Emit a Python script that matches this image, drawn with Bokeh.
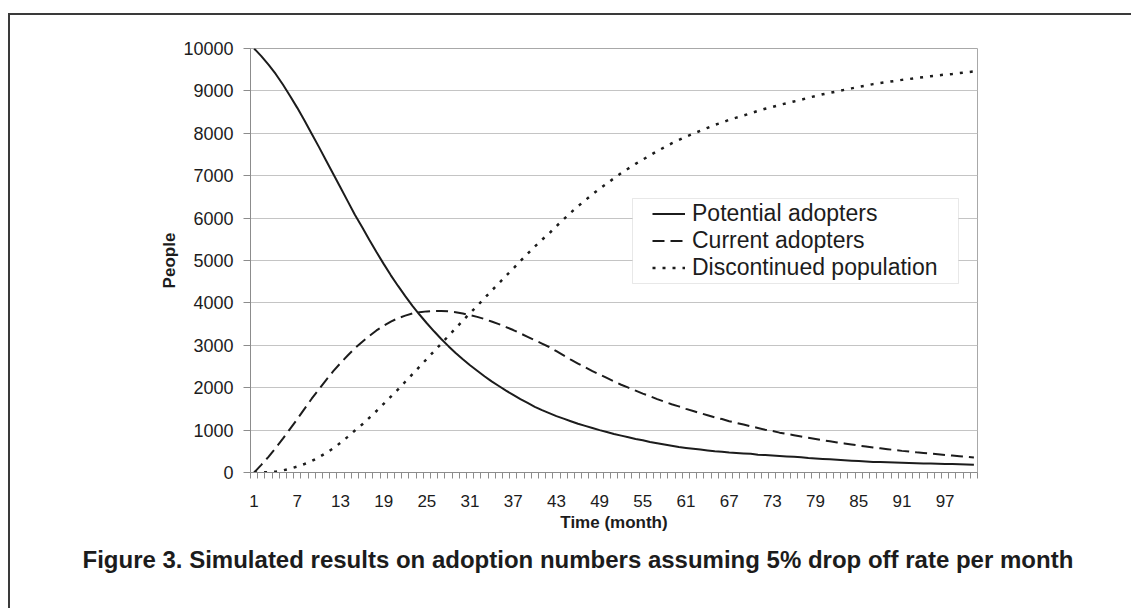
from bokeh.plotting import figure
from bokeh.models import Range1d, FixedTicker, Legend, LegendItem, BoxAnnotation, Title
from bokeh.embed import file_html
from bokeh.resources import INLINE

months = list(range(1, 102))
x_tick_months = [1, 7, 13, 19, 25, 31, 37, 43, 49, 55, 61, 67, 73, 79, 85, 91, 97]
y_ticks = [0, 1000, 2000, 3000, 4000, 5000, 6000, 7000, 8000, 9000, 10000]

potential = [10000, 9820, 9620, 9400, 9150, 8880, 8600, 8300, 7990, 7680,
             7360, 7040, 6720, 6400, 6080, 5790, 5490, 5200, 4920, 4650,
             4400, 4160, 3930, 3720, 3520, 3330, 3150, 2980, 2820, 2670,
             2530, 2400, 2270, 2150, 2040, 1930, 1830, 1730, 1640, 1550,
             1470, 1400, 1330, 1270, 1210, 1150, 1100, 1050, 1000, 955,
             910, 870, 830, 790, 760, 720, 690, 660, 630, 600,
             580, 560, 540, 520, 500, 490, 470, 460, 450, 440,
             420, 410, 400, 390, 380, 370, 360, 340, 330, 320,
             310, 300, 290, 280, 270, 260, 250, 245, 240, 235,
             230, 225, 220, 215, 210, 205, 200, 200, 195, 190,
             185]

current = [0, 180, 370, 580, 800, 1030, 1260, 1500, 1740, 1960,
           2180, 2390, 2580, 2760, 2930, 3080, 3220, 3350, 3460, 3560,
           3640, 3700, 3750, 3780, 3800, 3810, 3810, 3800, 3780, 3750,
           3710, 3670, 3620, 3560, 3500, 3430, 3360, 3280, 3200, 3120,
           3040, 2960, 2860, 2760, 2660, 2570, 2480, 2390, 2310, 2230,
           2150, 2070, 2000, 1930, 1860, 1800, 1730, 1670, 1610, 1560,
           1500, 1450, 1400, 1350, 1300, 1260, 1210, 1170, 1130, 1090,
           1050, 1010, 980, 940, 910, 880, 850, 820, 790, 760,
           735, 710, 685, 660, 635, 615, 590, 570, 550, 530,
           510, 495, 475, 460, 445, 430, 415, 400, 385, 370,
           355]

discontinued = [0, 0, 10, 20, 50, 90, 140, 200, 270, 360,
                460, 570, 700, 840, 990, 1130, 1290, 1450, 1620, 1790,
                1960, 2140, 2320, 2500, 2680, 2860, 3040, 3220, 3400, 3580,
                3760, 3930, 4110, 4290, 4460, 4640, 4810, 4990, 5160, 5330,
                5490, 5640, 5810, 5970, 6130, 6280, 6420, 6560, 6690, 6815,
                6940, 7060, 7170, 7280, 7380, 7480, 7580, 7670, 7760, 7840,
                7920, 7990, 8060, 8130, 8200, 8250, 8320, 8370, 8420, 8470,
                8530, 8580, 8620, 8670, 8710, 8750, 8790, 8840, 8880, 8920,
                8955, 8990, 9025, 9060, 9095, 9125, 9160, 9185, 9210, 9235,
                9260, 9280, 9305, 9325, 9345, 9365, 9385, 9400, 9420, 9440,
                9460]

series_names = ["Potential adopters", "Current adopters", "Discontinued population"]
caption = "Figure 3. Simulated results on adoption numbers assuming 5% drop off rate per month"

FONT = "Liberation Sans"
INK = "#1c1c1c"
EDGE = "#3a3a3a"

p = figure(width=1131, height=608, output_backend="svg", toolbar_location=None,
           x_range=Range1d(0.5, 101.5), y_range=Range1d(0, 10000),
           min_border_left=250, min_border_right=154, min_border_top=48,
           min_border_bottom=136, background_fill_color="white",
           border_fill_color=None)
# page frame lines (left and top edges of the figure box), drawn behind the canvas
p.styles = {
    "background": ("linear-gradient(%s, %s) 8px 13px / 2px 700px no-repeat, "
                   "linear-gradient(%s, %s) 8px 13px / 1300px 2px no-repeat, #ffffff")
                  % (EDGE, EDGE, EDGE, EDGE)
}
p.outline_line_color = "#a8a8a8"
p.outline_line_width = 1

# axes
boundaries = [m - 0.5 for m in months] + [months[-1] + 0.5]
p.xaxis.ticker = FixedTicker(ticks=x_tick_months, minor_ticks=boundaries)
p.xaxis.major_tick_out = 0
p.xaxis.major_tick_in = 0
p.xaxis.minor_tick_out = 6
p.xaxis.minor_tick_in = 0
p.xaxis.minor_tick_line_color = "#8c8c8c"
p.xaxis.axis_line_color = "#8c8c8c"
p.xaxis.major_label_text_font = FONT
p.xaxis.major_label_text_font_size = "17px"
p.xaxis.major_label_text_color = INK
p.xaxis.major_label_standoff = 16
p.xaxis.axis_label = "Time (month)"
p.xaxis.axis_label_text_font = FONT
p.xaxis.axis_label_text_font_style = "bold"
p.xaxis.axis_label_text_font_size = "17px"
p.xaxis.axis_label_text_color = INK
p.xaxis.axis_label_standoff = 3

p.yaxis.ticker = FixedTicker(ticks=y_ticks)
p.yaxis.major_tick_out = 7
p.yaxis.major_tick_in = 0
p.yaxis.minor_tick_out = 0
p.yaxis.minor_tick_in = 0
p.yaxis.major_tick_line_color = "#8c8c8c"
p.yaxis.axis_line_color = "#8c8c8c"
p.yaxis.major_label_text_font = FONT
p.yaxis.major_label_text_font_size = "18px"
p.yaxis.major_label_text_color = INK
p.yaxis.major_label_standoff = 10
p.yaxis.axis_label = "People"
p.yaxis.axis_label_text_font = FONT
p.yaxis.axis_label_text_font_style = "bold"
p.yaxis.axis_label_text_font_size = "17px"
p.yaxis.axis_label_text_color = INK
p.yaxis.axis_label_standoff = 1

p.xgrid.visible = False
p.ygrid.ticker = FixedTicker(ticks=y_ticks)
p.ygrid.grid_line_color = "#c4c4c4"
p.ygrid.grid_line_width = 1

# series
r1 = p.line(months, potential, line_color=INK, line_width=2)
r2 = p.line(months, current, line_color=INK, line_width=2, line_dash="12 6")
r3 = p.line(months, discontinued, line_color=INK, line_width=2.5, line_dash="3 7")

# legend frame
legend_box = BoxAnnotation(left=382, right=708, bottom=189, top=274,
                           left_units="screen", right_units="screen",
                           top_units="screen", bottom_units="screen",
                           fill_color="white", fill_alpha=1.0,
                           line_color="#b4b4b4", line_width=1)
p.add_layout(legend_box)

legend = Legend(items=[LegendItem(label=series_names[0], renderers=[r1]),
                       LegendItem(label=series_names[1], renderers=[r2]),
                       LegendItem(label=series_names[2], renderers=[r3])],
                location=(402, 191), orientation="vertical",
                label_text_font=FONT, label_text_font_size="23px",
                label_text_color=INK, glyph_width=33, glyph_height=27,
                label_height=27, label_standoff=7, spacing=0, padding=0,
                margin=0, border_line_alpha=0, background_fill_alpha=0)
p.add_layout(legend)

cap = Title(text=caption, align="left", offset=-168, standoff=18,
            text_font=FONT, text_font_style="bold", text_font_size="24px",
            text_color=INK)
p.add_layout(cap, "below")

open("out.html", "w").write(file_html(p, INLINE))
